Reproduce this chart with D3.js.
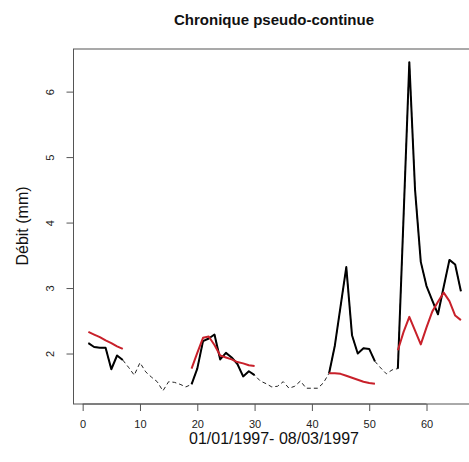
<!DOCTYPE html>
<html><head><meta charset="utf-8">
<script src="https://cdn.jsdelivr.net/npm/d3@7"></script>
<style>body{margin:0;background:#fff}svg{display:block}</style>
</head><body>
<script>
// Observed discharge (mm), day index 1..66
const days = d3.range(1, 67);
const observed = [2.16,2.10,2.09,2.09,1.76,1.97,1.90,1.79,1.67,1.86,
                  1.72,1.64,1.57,1.43,1.57,1.56,1.53,1.49,1.53,1.77,
                  2.19,2.23,2.29,1.91,2.01,1.94,1.84,1.65,1.73,1.67,
                  1.58,1.54,1.49,1.50,1.57,1.47,1.50,1.58,1.47,1.47,
                  1.47,1.55,1.70,2.12,2.72,3.32,2.28,2.00,2.08,2.07,
                  1.88,1.78,1.69,1.75,1.77,4.10,6.45,4.50,3.40,3.03,
                  2.81,2.60,3.02,3.43,3.36,2.95];
// Event periods (solid observed + simulated)
const events = [[1,7],[19,30],[43,51],[55,66]];
// Simulated discharge per event
const sim1 = [2.33,2.29,2.25,2.20,2.16,2.11,2.07];
const sim2 = [1.77,2.01,2.24,2.26,2.13,1.97,1.94,1.91,1.87,1.85,1.82,1.81];
const sim3 = [1.70,1.70,1.69,1.66,1.63,1.60,1.57,1.55,1.54];
const sim4 = [2.05,2.33,2.56,2.35,2.14,2.40,2.64,2.79,2.93,2.80,2.58,2.51];
const simulated = [sim1, sim2, sim3, sim4];
const xTicks = [0,10,20,30,40,50,60];
const yTicks = [2,3,4,5,6];

const W = 469, H = 462;
const svg = d3.select("body").append("svg").attr("width", W).attr("height", H)
  .style("font-family", "'Liberation Sans', Arial, sans-serif");

const x = d3.scaleLinear().domain([-1.6, 68.6]).range([73.5, 475.8]);
const y = d3.scaleLinear().domain([1.2292, 6.6508]).range([404, 49]);

// box
svg.append("rect").attr("x", x(-1.6)).attr("y", y(6.6508))
  .attr("width", x(68.6) - x(-1.6)).attr("height", y(1.2292) - y(6.6508))
  .attr("fill", "none").attr("stroke", "#555").attr("stroke-width", 1);

const line = d3.line().x(d => x(d[0])).y(d => y(d[1]));
const obsPts = days.map((d, i) => [d, observed[i]]);

// dashed full series
svg.append("path").attr("d", line(obsPts)).attr("fill", "none")
  .attr("stroke", "#222").attr("stroke-width", 1).attr("stroke-dasharray", "4,3");

// solid observed on events
events.forEach(([a, b]) => {
  svg.append("path").attr("d", line(obsPts.filter(p => p[0] >= a && p[0] <= b)))
    .attr("fill", "none").attr("stroke", "#000").attr("stroke-width", 2)
    .attr("stroke-linejoin", "round");
});
// simulated
events.forEach(([a, b], k) => {
  const pts = simulated[k].map((v, i) => [a + i, v]);
  svg.append("path").attr("d", line(pts)).attr("fill", "none")
    .attr("stroke", "#c8202a").attr("stroke-width", 2).attr("stroke-linejoin", "round");
});

// x axis
const xAxis = d3.axisBottom(x).tickValues(xTicks).tickSize(7).tickPadding(9);
const gx = svg.append("g").attr("transform", `translate(0,${y(1.2292)})`).call(xAxis);
gx.select(".domain").attr("d", `M${x(0)},0H${x(60)}`).attr("stroke", "#555");
gx.selectAll(".tick line").attr("stroke", "#555");
gx.selectAll(".tick text").attr("font-size", 11).attr("fill", "#222")
  .style("font-family", "'Liberation Sans', Arial, sans-serif");

// y axis
const yAxis = d3.axisLeft(y).tickValues(yTicks).tickSize(7).tickFormat(d3.format("d"));
const gy = svg.append("g").attr("transform", `translate(${x(-1.6)},0)`).call(yAxis);
gy.select(".domain").attr("d", `M0,${y(2)}V${y(6)}`).attr("stroke", "#555");
gy.selectAll(".tick line").attr("stroke", "#555");
gy.selectAll(".tick text").attr("font-size", 11).attr("fill", "#222")
  .attr("x", null).attr("dy", null)
  .attr("transform", "translate(-20,0) rotate(-90)")
  .attr("text-anchor", "middle")
  .style("font-family", "'Liberation Sans', Arial, sans-serif");

// title
svg.append("text").attr("x", 274).attr("y", 25).attr("text-anchor", "middle")
  .attr("font-size", 15).attr("font-weight", "bold").attr("fill", "#111")
  .text("Chronique pseudo-continue");
// x label
svg.append("text").attr("x", 274).attr("y", 444).attr("text-anchor", "middle")
  .attr("font-size", 16).attr("fill", "#111").text("01/01/1997- 08/03/1997");
// y label
svg.append("text").attr("transform", "translate(28,226) rotate(-90)")
  .attr("text-anchor", "middle").attr("font-size", 16).attr("fill", "#111")
  .text("Débit (mm)");
</script>
</body></html>
